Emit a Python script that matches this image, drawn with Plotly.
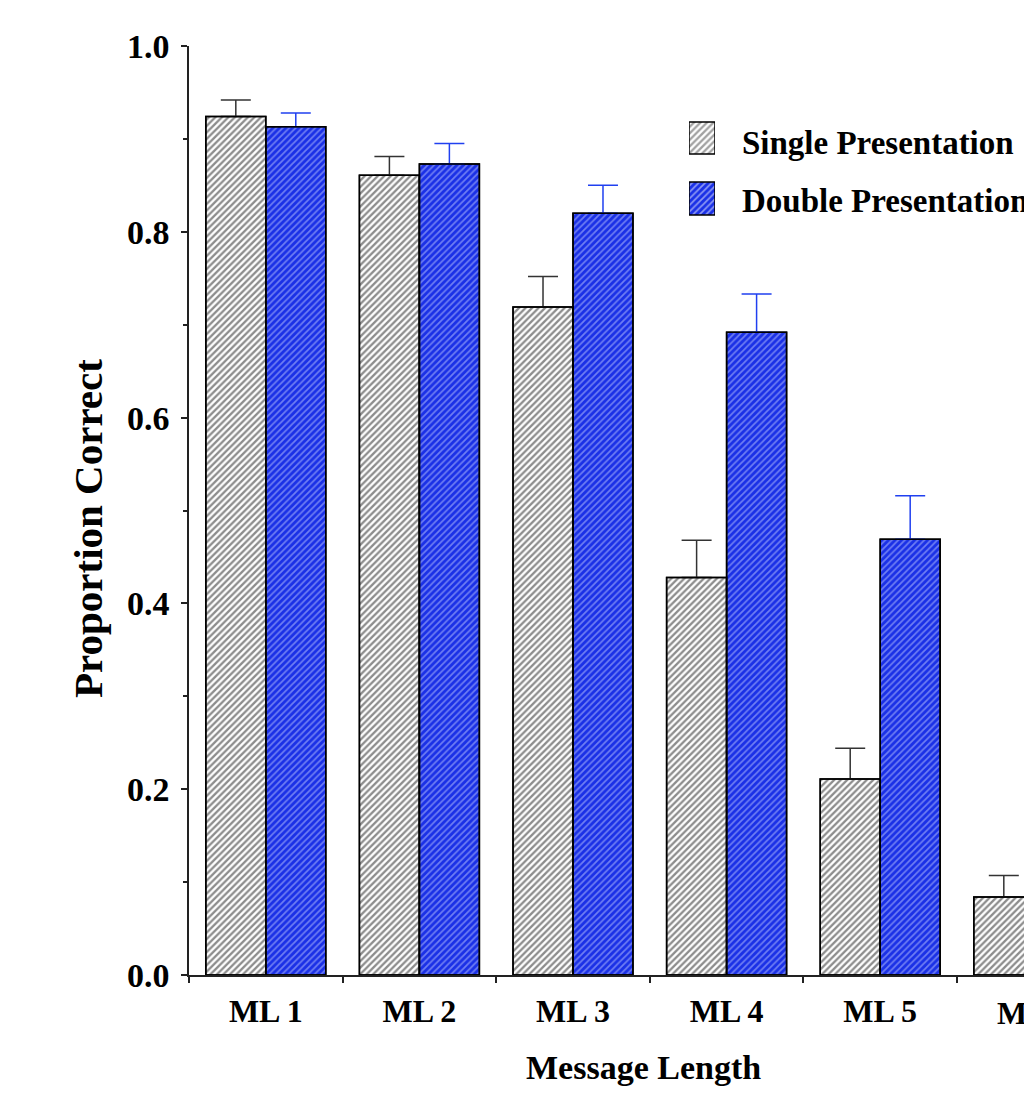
import plotly.graph_objects as go

# Proportion correct by message length, single vs double presentation
categories = ["ML 1", "ML 2", "ML 3", "ML 4", "ML 5", "ML 6"]
single = [0.924, 0.861, 0.719, 0.428, 0.211, 0.084]
single_err = [0.018, 0.020, 0.033, 0.040, 0.033, 0.023]
double = [0.913, 0.873, 0.820, 0.692, 0.469, 0.245]
double_err = [0.015, 0.022, 0.030, 0.041, 0.047, 0.040]
series_names = ["Single Presentation", "Double Presentation"]
y_ticks = [0.0, 0.2, 0.4, 0.6, 0.8, 1.0]
y_tick_labels = ["0.0", "0.2", "0.4", "0.6", "0.8", "1.0"]
y_minor = [0.1, 0.3, 0.5, 0.7, 0.9]

W, H = 1024, 1101
ML, MR, MT, MB = 189, 0, 46, 126
PW, PH = W - ML - MR, H - MT - MB
FONT = "Liberation Serif"
INK = "#222222"


def px(x):
    return (x - ML) / PW


def py(y):
    return (H - MB - y) / PH


single_style = dict(color="#ffffff",
                    pattern=dict(shape="/", bgcolor="#ffffff", fgcolor="#1a1a1a",
                                 size=4.6, solidity=0.5),
                    line=dict(color="black", width=1.5))
double_style = dict(color="#1a30e6",
                    pattern=dict(shape="/", bgcolor="#1a30e6", fgcolor="#c4ccff",
                                 size=4.6, solidity=0.38),
                    line=dict(color="black", width=1.5))

fig = go.Figure()
fig.add_bar(x=categories, y=single, name=series_names[0], offsetgroup="s",
            marker=single_style,
            error_y=dict(type="data", array=single_err, arrayminus=[0] * len(single),
                         symmetric=False, color="#333333", thickness=1.5, width=15),
            showlegend=False)
fig.add_bar(x=categories, y=double, name=series_names[1], offsetgroup="d",
            marker=double_style,
            error_y=dict(type="data", array=double_err, arrayminus=[0] * len(double),
                         symmetric=False, color="#2040f0", thickness=1.5, width=15),
            showlegend=False)
# crisp outlines drawn over the error-bar bases
for vals, grp in ((single, "s"), (double, "d")):
    fig.add_bar(x=categories, y=vals, offsetgroup=grp,
                marker=dict(color="rgba(0,0,0,0)", line=dict(color="black", width=1.5)),
                hoverinfo="skip", showlegend=False)

# legend swatches on a small helper subplot
fig.add_bar(x=[1, 1], y=[78, 17.5], width=[32, 33], orientation="h",
            xaxis="x2", yaxis="y2", showlegend=False, hoverinfo="skip",
            marker=dict(color=[single_style["color"], double_style["color"]],
                        pattern=dict(shape="/", size=4.6,
                                     bgcolor=[single_style["pattern"]["bgcolor"],
                                              double_style["pattern"]["bgcolor"]],
                                     fgcolor=[single_style["pattern"]["fgcolor"],
                                              double_style["pattern"]["fgcolor"]],
                                     solidity=[0.5, 0.38]),
                        line=dict(color="black", width=1.5)))

annotations = [
    dict(text=series_names[0], x=px(740), y=py(143), xref="paper", yref="paper",
         xanchor="left", yanchor="middle", showarrow=False,
         font=dict(family=FONT, size=33, color="black", weight="bold")),
    dict(text=series_names[1], x=px(740), y=py(201), xref="paper", yref="paper",
         xanchor="left", yanchor="middle", showarrow=False,
         font=dict(family=FONT, size=33, color="black", weight="bold")),
    dict(text="Proportion Correct", x=px(88), y=py(529), xref="paper", yref="paper",
         xanchor="center", yanchor="middle", textangle=-90, showarrow=False,
         font=dict(family=FONT, size=41, color="black", weight="bold")),
    dict(text="Message Length", x=px(643), y=py(1067), xref="paper", yref="paper",
         xanchor="center", yanchor="middle", showarrow=False,
         font=dict(family=FONT, size=34, color="black", weight="bold")),
    # last category label runs off the right edge of the page
    dict(text=categories[-1], x=px(265.5 + 5 * 153.6), y=py(1013), xref="paper",
         yref="paper", xanchor="center", yanchor="middle", showarrow=False,
         font=dict(family=FONT, size=32, color="black", weight="bold")),
]

fig.update_layout(
    width=W, height=H,
    margin=dict(l=ML, r=MR, t=MT, b=MB, pad=0),
    paper_bgcolor="white", plot_bgcolor="white",
    barmode="group", bargap=0.219, bargroupgap=0,
    showlegend=False,
    annotations=annotations,
    xaxis=dict(type="category", categoryorder="array", categoryarray=categories,
               range=[-0.5, -0.5 + PW / 153.6], tickson="boundaries",
               ticks="outside", ticklen=6, tickwidth=1.5, tickcolor=INK,
               showline=True, linecolor=INK, linewidth=1.5, showgrid=False,
               zeroline=False, ticklabelstandoff=7,
               tickfont=dict(family=FONT, size=32, color="black", weight="bold")),
    yaxis=dict(range=[0, 1], tickvals=y_ticks, ticktext=y_tick_labels,
               ticks="outside", ticklen=6, tickwidth=1.5, tickcolor=INK,
               minor=dict(tickvals=y_minor, ticks="outside", ticklen=4,
                          tickwidth=1.5, tickcolor=INK, showgrid=False),
               showline=True, linecolor=INK, linewidth=1.5, showgrid=False,
               zeroline=False, ticklabelstandoff=5,
               tickfont=dict(family=FONT, size=34, color="black", weight="bold")),
    xaxis2=dict(domain=[px(689), px(715)], range=[0, 1], visible=False,
                fixedrange=True),
    yaxis2=dict(domain=[py(216), py(121)], range=[0, 95], visible=False,
                fixedrange=True),
)

fig.write_html("out.html")
